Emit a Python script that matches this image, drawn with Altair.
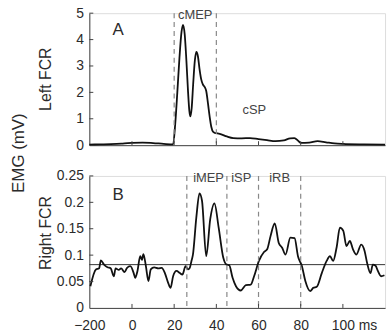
import altair as alt
import pandas as pd

# ---- Panel A: left FCR (mV) ----
top_t = [-200, -150, -100, -50, -20, 0, 5, 10, 15, 19.5,
         20.5, 21.5, 22.5, 23.5, 24.2, 25, 25.8, 26.6, 27.2, 27.7,
         28.3, 29, 29.8, 30.5, 31.3, 32, 32.8, 33.6, 34.5, 35.2,
         36, 36.8, 37.6, 38.5, 39.5, 40.5, 42, 45, 48, 52,
         56, 60, 64, 68, 72, 75, 77, 79, 80, 84,
         88, 92, 96, 100, 110, 120]
top_v = [0.02, 0.03, 0.04, 0.06, 0.08, 0.09, 0.10, 0.08, 0.05, 0.03,
         0.8, 2.0, 3.3, 4.3, 4.56, 4.2, 3.2, 2.0, 1.3, 1.09,
         1.4, 2.3, 3.2, 3.53, 3.35, 2.9, 2.5, 2.3, 2.2, 2.05,
         1.6, 1.1, 0.7, 0.5, 0.46, 0.45, 0.42, 0.33, 0.27, 0.26,
         0.27, 0.23, 0.19, 0.15, 0.18, 0.26, 0.27, 0.15, 0.09, 0.10,
         0.15, 0.11, 0.07, 0.05, 0.03, 0.02]

# ---- Panel B: right FCR (mV) ----
bot_t = [-195, -169, -154, -146, -131, -115, -100, -85, -77, -62,
         -51, -35, -23, -8, 0.8, 1.5, 2.6, 3.9, 4.7, 5.4,
         6.6, 7.8, 8.9, 10.5, 12.5, 14.1, 15.6, 17.2, 18.3, 19.5,
         21.1, 22.7, 23.9, 25.4, 26.6, 27.4, 28.2, 28.9, 30.5, 32,
         33.2, 35.2, 37.1, 39.1, 41.1, 43.3, 44.9, 46.1, 47.7, 49.3,
         51.6, 54, 56.3, 57.9, 60.2, 62.6, 64.1, 65.7, 67.7, 69.6,
         71.2, 72.8, 75.1, 77.1, 78.7, 80.6, 82.2, 84.5, 86, 87.6,
         90, 92.3, 93.9, 95.4, 97, 98.6, 100.2, 101.7, 103.3, 104.8,
         106.4, 108.7, 110.3, 111.5, 113.1, 114.2, 115.5, 116.6, 118.1, 119.7]
bot_v = [0.041, 0.073, 0.075, 0.090, 0.082, 0.077, 0.075, 0.060, 0.075, 0.072,
         0.075, 0.068, 0.076, 0.079, 0.066, 0.057, 0.070, 0.098, 0.091, 0.102,
         0.079, 0.051, 0.073, 0.077, 0.075, 0.076, 0.066, 0.047, 0.038, 0.060,
         0.070, 0.066, 0.063, 0.079, 0.073, 0.076, 0.089, 0.101, 0.171, 0.217,
         0.203, 0.098, 0.168, 0.198, 0.152, 0.095, 0.082, 0.081, 0.057, 0.041,
         0.033, 0.043, 0.044, 0.060, 0.089, 0.106, 0.111, 0.136, 0.160, 0.123,
         0.114, 0.101, 0.133, 0.132, 0.098, 0.079, 0.051, 0.032, 0.038, 0.040,
         0.066, 0.089, 0.098, 0.089, 0.114, 0.152, 0.146, 0.117, 0.127, 0.111,
         0.101, 0.120, 0.108, 0.085, 0.066, 0.082, 0.080, 0.070, 0.060, 0.062]

baseline_b = 0.082

top_windows = [20, 40]
bot_windows = [26, 45, 60, 80]

top_notes = ["A", "cMEP", "cSP"]
top_note_t = [-65, 30, 58]
top_note_v = [4.36, 4.94, 1.32]
top_note_size = [17, 13, 13]

bot_notes = ["B", "iMEP", "iSP", "iRB"]
bot_note_t = [-65, 36.3, 51.8, 70]
bot_note_v = [0.214, 0.246, 0.246, 0.246]
bot_note_size = [17, 13, 13, 13]

x_ticks = [0, 20, 40, 60, 80, 100]
x_labels = [-200, 0, 20, 40, 60, 80, 100]
top_y_ticks = [1, 2, 3, 4, 5]
bot_y_ticks = [0.05, 0.1, 0.15, 0.2, 0.25]

W, H = 298, 133
FONT = "Liberation Sans"
TXT = "#2b2b2b"

# compressed pre-stimulus segment: -200..0 takes one tick interval
xscale = alt.Scale(domain=[-200, 0, 120], range=[0, 43, W], nice=False)


def xenc(show_labels):
    return alt.X(
        "t:Q", scale=xscale, title="",
        axis=alt.Axis(values=x_labels, ticks=False, grid=False, labels=show_labels,
                      labelFlush=False, labelOverlap=False, domainColor="#444",
                      labelFont=FONT, labelFontSize=14, labelColor=TXT,
                      labelPadding=11),
    )


def yenc(domain, values):
    return alt.Y(
        "v:Q", scale=alt.Scale(domain=domain, nice=False), title="",
        axis=alt.Axis(values=values, format="~g", ticks=False, grid=False,
                      domainColor="#444", labelFont=FONT, labelFontSize=14,
                      labelColor=TXT, labelPadding=6, labelFlush=False),
    )


def panel(ts, vs, ydom, yvals, yticks, windows, notes, note_t, note_v, note_size,
          title, title_y, show_x_labels, hline=None, extra=None):
    X = xenc(show_x_labels)
    Y = yenc(ydom, yvals)
    trace = alt.Chart(pd.DataFrame({"t": ts, "v": vs})).mark_line(
        color="#111", strokeWidth=1.8, interpolate="monotone").encode(x=X, y=Y)
    dashes = alt.Chart(pd.DataFrame({"t": windows})).mark_rule(
        color="#888", strokeDash=[5, 4], strokeWidth=1.2).encode(x=X)
    xt = alt.Chart(pd.DataFrame({"t": x_ticks})).mark_rule(
        color="#444").encode(x=X, y=alt.value(H), y2=alt.value(H - 4))
    yt = alt.Chart(pd.DataFrame({"v": yticks})).mark_rule(
        color="#444").encode(y=Y, x=alt.value(0), x2=alt.value(4))
    note_df = pd.DataFrame({"t": note_t, "v": note_v, "label": notes, "size": note_size})
    big = alt.Chart(note_df[note_df["size"] > 15]).mark_text(
        font=FONT, fontSize=17, color=TXT).encode(x=X, y=Y, text="label:N")
    small = alt.Chart(note_df[note_df["size"] <= 15]).mark_text(
        font=FONT, fontSize=13, color="#444").encode(x=X, y=Y, text="label:N")
    ttl = alt.Chart(pd.DataFrame({"label": [title]})).mark_text(
        font=FONT, fontSize=16, color=TXT, angle=270).encode(
        x=alt.value(-44), y=alt.value(title_y), text="label:N")
    layers = [trace, dashes, xt, yt, big, small, ttl]
    if hline is not None:
        layers.insert(0, alt.Chart(pd.DataFrame({"v": [hline]})).mark_rule(
            color="#333", strokeWidth=1).encode(y=Y))
    if extra is not None:
        layers.extend(extra)
    return alt.layer(*layers).properties(width=W, height=H)


emg_title = alt.Chart(pd.DataFrame({"label": ["EMG (mV)"]})).mark_text(
    font=FONT, fontSize=17, color=TXT, angle=270).encode(
    x=alt.value(-71), y=alt.value(141), text="label:N")

unit = alt.Chart(pd.DataFrame({"t": [100], "label": ["ms"]})).mark_text(
    font=FONT, fontSize=14, color=TXT, align="left", baseline="top", dx=16).encode(
    x=xenc(True), y=alt.value(H + 11), text="label:N")

top = panel(top_t, top_v, [0, 5], [0, 1, 2, 3, 4, 5], top_y_ticks, top_windows,
            top_notes, top_note_t, top_note_v, top_note_size,
            "Left FCR", H / 2, False, extra=[emg_title])
bottom = panel(bot_t, bot_v, [0, 0.25], [0, 0.05, 0.1, 0.15, 0.2, 0.25], bot_y_ticks,
               bot_windows, bot_notes, bot_note_t, bot_note_v, bot_note_size,
               "Right FCR", H / 2 - 9, True, hline=baseline_b, extra=[unit])

chart = alt.vconcat(top, bottom, spacing=31, bounds="flush").properties(
    padding={"left": 9, "top": 4, "right": 2, "bottom": 0}
).configure_view(stroke=None).configure(background="white")

chart.save("out.html", embed_options={"renderer": "svg", "actions": False})
